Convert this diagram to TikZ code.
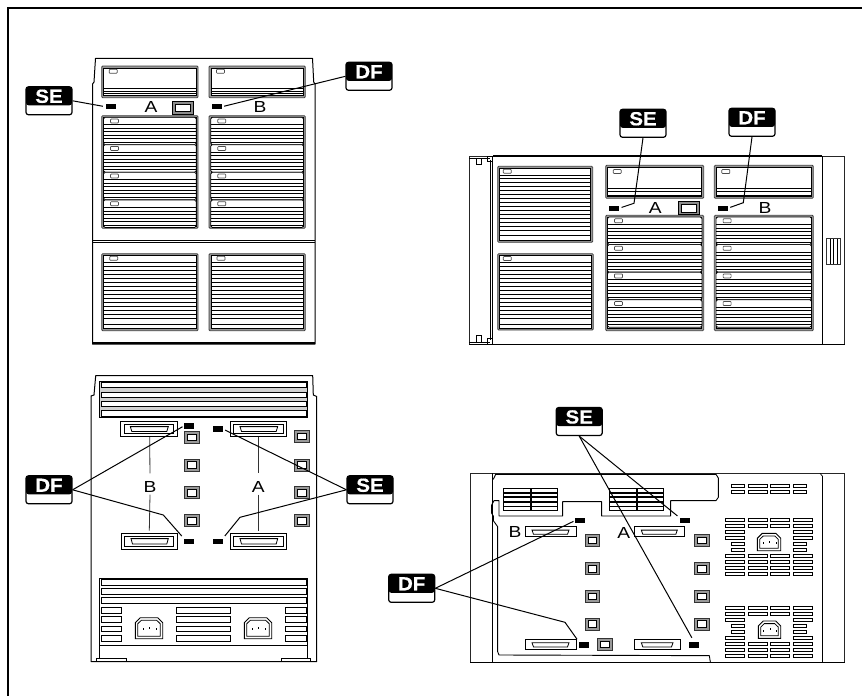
\documentclass[tikz,border=0pt]{standalone}
\usepackage{fontspec}
\setmainfont{Liberation Sans}
\newfontfamily\tagfont{Liberation Sans}[FakeStretch=1.08,FakeBold=0.6]
\newfontfamily\letterfont{Liberation Sans}[FakeStretch=1.2]
\tikzset{
  tagbox/.style={draw=black,line width=1.2,rounded corners=2.5,minimum width=46,minimum height=28,inner sep=0,
    text=white,text height=16,text depth=12,font=\tagfont\bfseries\fontsize{19}{19}\selectfont,
    path picture={\fill[black] (path picture bounding box.north west) rectangle ([yshift=9.5pt]path picture bounding box.south east);}},
  letter/.style={inner sep=2,font=\letterfont\fontsize{16}{16}\selectfont,text=black},
  ledbox/.style={fill=black,draw=none,minimum width=10,minimum height=5.3,inner sep=0},
  conn/.style={draw=black,line width=1},
  thinconn/.style={draw=black!80,line width=.8},
  outline/.style={draw=black,line width=1,line join=round},
  stripe/.style={draw=black,line width=.9},
  frameout/.style={draw=black!75,line width=.8,fill=black!40,rounded corners=1},
  frameinner/.style={draw=black,line width=.7,fill=white},
  indic/.style={draw=black!70,line width=.7,fill=white,rounded corners=.8},
  vent/.style={draw=black,line width=.75,fill=white},
}
\newcommand{\Bay}[4]{\draw[frameout] (#1,#2) rectangle (#3,#4);
  \draw[frameinner] ({(#1)+2},{(#2)+2}) rectangle ({(#3)-2},{(#4)-2});}
\newcommand{\Ind}[2]{\draw[indic] ({#1},{#2}) rectangle ({(#1)+8},{(#2)+4});}
\newcommand{\Lines}[3]{\foreach \yy in {#3} {\draw[stripe] ({#1},\yy) -- ({#2},\yy);}}
\newcommand{\SlotBox}[3]{\draw[frameinner,rounded corners=1.5] ({#1},#2) rectangle ({#3},{(#2)+27.4});
  \Ind{(#1)+7}{(#2)+1.7}
  \foreach \dd in {7.5,11,14.5,18,21.5,25} {\draw[stripe] ({#1},{(#2)+\dd}) -- ({#3},{(#2)+\dd});}}
\newcommand{\Button}[4]{\draw[draw=black,line width=.9,fill=black!45] (#1,#2) rectangle (#3,#4);
  \draw[frameinner] ({#1+3},{#2+2.7}) rectangle ({#3-3},{#4-2.7});}
\newcommand{\Sq}[2]{\draw[draw=black!80,line width=.8,fill=black!40] (#1,#2) rectangle ({#1+14.7},{#2+12});
  \draw[frameinner] ({#1+3},{#2+2.6}) rectangle ({#1+11.7},{#2+9.4});}
\newcommand{\ConnA}[4]{\draw[draw=black,line width=.9,fill=white] (#1,#2) rectangle (#3,#4);
  \draw[draw=black,line width=.8] ({#1+3.7},{#2+3}) rectangle ({#3-3.7},{#4-3.3});
  \draw[draw=black,line width=.8,fill=white] ({#1+10},{#2+5.3}) -- ({#3-9},{#2+5.3}) -- ({#3-10.5},{#4-5.3}) -- ({#1+11.5},{#4-5.3}) -- cycle;}
\newcommand{\ConnB}[4]{\draw[draw=black,line width=.9,fill=white] (#1,#2) rectangle (#3,#4);
  \draw[draw=black,line width=.8,fill=white] ({#1+7},{#2+3.4}) -- ({#3-7},{#2+3.4}) -- ({#3-8.5},{#4-2.4}) -- ({#1+8.5},{#4-2.4}) -- cycle;}
\newcommand{\Plug}[4]{\draw[draw=black,line width=.9,fill=white] (#1,{#2+#4}) -- (#1,{#2+5}) -- ({#1+5},#2) -- ({#1+#3-5},#2) -- ({#1+#3},{#2+5}) -- ({#1+#3},{#2+#4}) -- cycle;
  \draw[draw=black,line width=.8] ({#1+2.5},{#2+#4-2.5}) -- ({#1+2.5},{#2+6}) -- ({#1+6},{#2+2.6}) -- ({#1+#3-6},{#2+2.6}) -- ({#1+#3-2.5},{#2+6}) -- ({#1+#3-2.5},{#2+#4-2.5}) -- cycle;
  \fill ({#1+#3/2},{#2+#4/2-1.5}) rectangle ({#1+#3/2+1.2},{#2+#4/2+.8});
  \fill ({#1+#3/2-6.5},{#2+#4/2}) rectangle ({#1+#3/2-5.3},{#2+#4/2+2});
  \fill ({#1+#3/2+6.5},{#2+#4/2}) rectangle ({#1+#3/2+7.7},{#2+#4/2+2});}
\begin{document}
\begin{tikzpicture}[x=1pt,y=-1pt]
\useasboundingbox (0,0) rectangle (862,696);
\fill[white] (0,0) rectangle (862,696);
% page frame (open to the right and below)
\draw[line width=2,draw=black] (8,696) -- (8,8) -- (862,8);

% ======== top-left view ========
\draw[outline] (92.5,344) -- (92.5,84) -- (94,82) -- (95.5,58.3) -- (312.5,58.3) -- (313.7,82) -- (315,84) -- (315,344) -- cycle;
\draw[draw=black,line width=1.6] (92.5,343) -- (315,343);
\draw[draw=black,line width=.7] (92.5,240.5) -- (315,240.5);
\draw[draw=black,line width=.7] (92.5,242.5) -- (315,242.5);
\foreach \xa/\xb in {101.7/198,209/305.3} {
  \Bay{\xa}{66}{\xb}{97.7}
  \Ind{\xa+7.5}{69.3}
  \Lines{\xa+2}{\xb-2}{88.3,91,93.5}
  \Bay{\xa}{115.7}{\xb}{228.3}
  \foreach \yy in {117.3,144.7,172.3,200} {\SlotBox{\xa+1.8}{\yy}{\xb-1.8}}
  \Bay{\xa}{253.7}{\xb}{330.7}
  \Ind{\xa+8}{256.3}
  \Lines{\xa+2}{\xb-2}{262,266,270,274,278,282,286,290,294,298,302,306,310,314,318,324}
}
\Button{172.7}{101.7}{193.3}{114}
\node[letter] (la1) at (151,107.3) {A};
\node[letter] (lb1) at (260,107.3) {B};
\node[ledbox] (led1) at (111,106.8) {};
\node[ledbox] (led2) at (216.5,106.8) {};
\node[tagbox] (se1) at (49,100.8) {SE};
\node[tagbox] (df1) at (369,76.3) {DF};
\draw[conn,shorten >=3] (se1.east) -- (led1.west);
\draw[conn,shorten >=2.5] (df1.west) -- (led2.east);

% ======== top-right view ========
\draw[draw=black!85,line width=.8] (469.3,156) rectangle (844.7,344);
\draw[draw=black,line width=1.5] (493,156) -- (821.7,156);
\draw[draw=black,line width=1] (469.3,344) -- (844.7,344);
\draw[draw=black,line width=1] (492.7,156) -- (492.7,344);
\draw[draw=black,line width=.7] (490.5,160) -- (490.5,340);
\draw[draw=black,line width=1] (822.3,156) -- (822.3,344);
\draw[draw=black,line width=.7] (469.3,158) -- (490,158);
\draw[draw=black,line width=.7] (469.3,342) -- (490,342);
\draw[draw=black,line width=.7] (476,158) rectangle (481,164);
\draw[draw=black,line width=.7] (487.3,156.7) rectangle (492.7,161.7);
\draw[draw=black,line width=.7] (476,335.7) rectangle (481.7,342);
\draw[draw=black,line width=.7] (487.3,338.3) rectangle (492.7,344);
\Bay{497.7}{166.3}{592.7}{242.3}
\Ind{503.3}{169.3}
\Lines{499.7}{590.7}{175,178,182,186,190,194,198,202,206,210,214,218,222,226,230,235}
\Bay{497.7}{253.7}{593.3}{330}
\Ind{503.3}{256.5}
\Lines{499.7}{591.3}{262,266,270,274,278,282,286,290,294,298,302,306,310,314,318,324}
\foreach \xa/\xb in {605.7/703.7,714.3/813.3} {
  \Bay{\xa}{165.3}{\xb}{198.3}
  \Ind{\xa+7.5}{169.5}
  \Lines{\xa+2}{\xb-2}{188.3,191.7,195}
  \Bay{\xa}{215.3}{\xb}{330.7}
  \foreach \yy in {217,244.6,272.2,299.8} {\SlotBox{\xa+1.8}{\yy}{\xb-1.8}}
}
\Button{678.3}{201.7}{699.3}{214.7}
\draw[draw=black!80,line width=.8,fill=white] (826.7,238.3) rectangle (840.7,264);
\foreach \xx in {830,833.5,837} {\draw[draw=black,line width=.6] (\xx,239) -- (\xx,263.5);}
\node[letter] (la2) at (655.3,207.5) {A};
\node[letter] (lb2) at (765,207.5) {B};
\node[ledbox] (led3) at (614,208.2) {};
\node[ledbox] (led4) at (722.7,208.2) {};
\node[tagbox] (se2) at (643,123.3) {SE};
\node[tagbox] (df2) at (752,122.3) {DF};
\coordinate (b3) at (634,203.3);
\coordinate (b4) at (743.3,202.7);
\draw[conn,shorten >=2.5] (se2.south) -- (b3) -- (led3.east);
\draw[conn,shorten >=2.5] (df2.south) -- (b4) -- (led4.east);

% ======== bottom-left view ========
\draw[outline] (91,661.7) -- (91,396) -- (94,395) -- (95.7,375.7) -- (312.7,375.7) -- (313.3,395) -- (316.7,396.5) -- (316.7,661.7) -- cycle;
\draw[draw=black,line width=.8,fill=black!18] (99.7,381) rectangle (307.3,417.3);
\foreach \ya/\yb in {382.3/387.7,392/397,401.3/406.3,410.7/416} {\draw[vent] (101.3,\ya) rectangle (306,\yb);}
\draw[draw=black,line width=.8] (99.7,661.7) -- (99.7,578.3) -- (307.3,578.3) -- (307.3,661.7);
\foreach \ya/\yb in {579.3/585.7,588.3/594.3,597.3/603.3} {\draw[vent] (101.3,\ya) rectangle (306.3,\yb);}
\foreach \ya/\yb in {607.7/613.3,616.7/622,626/631.7,635.3/641} {
  \draw[vent] (101.3,\ya) rectangle (121.7,\yb);
  \draw[vent] (176.7,\ya) rectangle (230.7,\yb);
  \draw[vent] (285.3,\ya) rectangle (306.3,\yb);
}
\draw[draw=black,line width=.8] (100,645) -- (307,645);
\draw[vent] (96.3,658.7) rectangle (126.7,661.7);
\draw[vent] (281.3,658.7) rectangle (310.7,661.7);
\Plug{135.3}{617.7}{27.4}{21}
\Plug{244.3}{617.7}{27.4}{21}
\ConnA{120.3}{421.3}{177.3}{436.7}
\ConnA{230}{421.3}{286.7}{436.7}
\ConnA{121}{533.3}{177.3}{549.3}
\ConnA{230}{533.3}{286.7}{549.3}
\foreach \yy in {431.3,459,486.7,514.7} {\Sq{184.3}{\yy}}
\foreach \yy in {430.3,459,486.7,514.7} {\Sq{294.3}{\yy}}
\node[letter] (lb3) at (150,487) {B};
\node[letter] (la3) at (258.3,487) {A};
\coordinate (cb1) at (149.7,437);
\coordinate (cb2) at (149.3,530.7);
\coordinate (ca1) at (258.3,437);
\coordinate (ca2) at (258.3,530.7);
\draw[thinconn,shorten >=6] (cb1) -- (lb3.north);
\draw[thinconn] (lb3.south) -- (cb2);
\draw[thinconn,shorten >=6] (ca1) -- (la3.north);
\draw[thinconn] (la3.south) -- (ca2);
\node[ledbox] (led5) at (189,426) {};
\node[ledbox] (led6) at (217.7,429) {};
\node[ledbox] (led7) at (189,541.2) {};
\node[ledbox] (led8) at (217.7,541.2) {};
\node[tagbox] (df3) at (49,489.8) {DF};
\node[tagbox] (se3) at (370,489.8) {SE};
\coordinate (b7) at (163.3,515);
\coordinate (b8) at (240,517.3);
\draw[conn,shorten >=1.5] (df3.east) -- (led5.west);
\draw[conn,shorten >=3] (df3.east) -- (b7) -- (led7.north west);
\draw[conn,shorten >=2.5] (se3.west) -- (led6.east);
\draw[conn,shorten >=3] (se3.west) -- (b8) -- (led8.north east);

% ======== bottom-right view (coordinates in thirds of a pixel) ========
\begin{scope}[shift={(430,390)},x=.33333pt,y=-.33333pt]
  \draw[draw=black!85,line width=.9] (120,250) rectangle (1244,816);
  \draw[draw=black,line width=1] (120,816) -- (1244,816);
  \draw[draw=black,line width=.9] (187,250) -- (187,816);
  \draw[draw=black,line width=.9] (1177,258) -- (1177,816);
  \draw[draw=black,line width=.7] (1170,250) -- (1177,258);
  \draw[outline,line width=.9] (190,268) -- (197,253) -- (858,253) -- (865,264) -- (865,322) -- (858,332) -- (722,332) -- (722,378) -- (515,378) -- (515,335) -- (398,335) -- (398,378) -- (207,378) -- (207,332) -- (192,332) -- (185,345) -- (185,370) -- (190,378) -- (190,392) -- (203,410) -- (203,785) -- (207,795) -- (838,797) -- (841,816);
  \foreach \xa/\xb in {220/300,303/383,537/618,622/700} {
    \foreach \ya/\yb in {295/307,309/319,322/333,336/348,350/362} {\draw[vent] (\xa,\ya) rectangle (\xb,\yb);}
  }
  % right-hand vents
  \foreach \xa/\xb in {904/944,955/1012,1022/1078,1091/1130} {
    \foreach \ya in {283,300} {\draw[vent] (\xa,\ya) rectangle (\xb,{\ya+10});}
  }
  \foreach \xa/\xb in {885/943,955/1012,1022/1078,1090/1148} {
    \foreach \ya in {385,403,493,511,529,547,649,667,757,775,793} {\draw[vent] (\xa,\ya) rectangle (\xb,{\ya+10});}
  }
  \foreach \xa/\xb in {885/943,1090/1148} {
    \foreach \ya in {421,439,685,739} {\draw[vent] (\xa,\ya) rectangle (\xb,{\ya+10});}
  }
  \foreach \xa/\xb in {905/943,1090/1130} {
    \foreach \ya in {457,475,703,721} {\draw[vent] (\xa,\ya) rectangle (\xb,{\ya+10});}
  }
\end{scope}
\Plug{757.3}{533.3}{23.4}{17.4}
\Plug{758.3}{621}{22.4}{17.3}
\ConnB{525}{526.7}{576}{536.7}
\ConnB{634.3}{526.7}{684.3}{536.7}
\ConnB{525}{639.3}{576}{649.3}
\ConnB{634.3}{639.3}{680}{649.3}
\foreach \yy in {534.3,562.7,590.3,618} {\Sq{585}{\yy}}
\foreach \yy in {534.3,562.7,590.3,618} {\Sq{694.3}{\yy}}
\Sq{597.3}{638.3}
\node[letter] (lb4) at (515,531.7) {B};
\node[letter] (la4) at (623.7,533) {A};
\node[ledbox] (led9) at (580,520.7) {};
\node[ledbox] (led10) at (685,520.7) {};
\node[ledbox] (led11) at (584.3,645) {};
\node[ledbox] (led12) at (694.3,645) {};
\node[tagbox] (se4) at (579.2,421.5) {SE};
\node[tagbox] (df4) at (411.7,588.3) {DF};
\coordinate (b11) at (565,622.3);
\draw[conn,shorten >=3] (se4.south) -- (led10.north west);
\draw[conn,shorten >=5] (se4.south) -- (led12.north);
\draw[conn,shorten >=1.5] (df4.east) -- (led9.west);
\draw[conn,shorten >=3.5] (df4.east) -- (b11) -- (led11.north west);
\end{tikzpicture}
\end{document}
